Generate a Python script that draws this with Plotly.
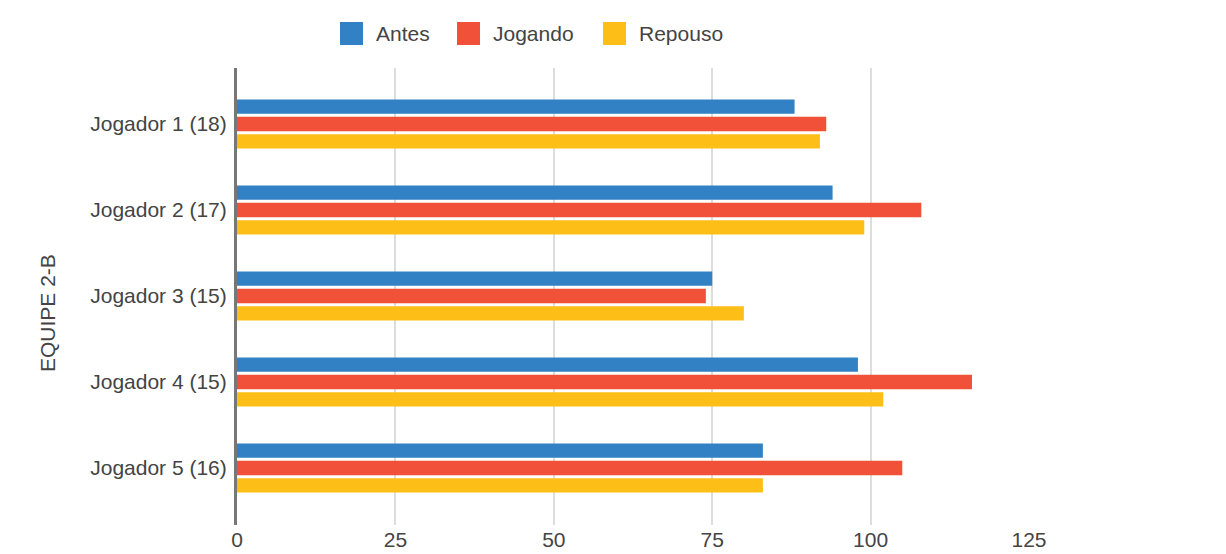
import plotly.graph_objects as go

# Jogadores da equipe e medições por momento
jogadores = ["Jogador 1 (18)", "Jogador 2 (17)", "Jogador 3 (15)", "Jogador 4 (15)", "Jogador 5 (16)"]
series = ["Antes", "Jogando", "Repouso"]
antes = [88, 94, 75, 98, 83]
jogando = [93, 108, 74, 116, 105]
repouso = [92, 99, 80, 102, 83]
cores = ["#3281C4", "#F05138", "#FDBF17"]
x_ticks = [0, 25, 50, 75, 100, 125]
titulo_y = "EQUIPE 2-B"

W, H = 1226, 554
ML, MR, MT, MB = 237, 197, 68, 29
font = "Liberation Sans, Arial, sans-serif"
fsize = 21

fig = go.Figure()
for nome, vals, cor in zip(series, [antes, jogando, repouso], cores):
    fig.add_trace(go.Bar(
        y=list(range(len(jogadores))), x=vals, name=nome, orientation="h",
        marker=dict(color=cor, line=dict(width=0)), showlegend=False,
    ))

# Legenda desenhada no topo (quadrados grandes)
leg_x = [340, 457, 603]
pw = W - ML - MR
ph = H - MT - MB
shapes = []
annotations = []
for nome, cor, px in zip(series, cores, leg_x):
    x0 = (px - ML) / pw
    x1 = (px + 23 - ML) / pw
    y0 = (H - MB - 45) / ph
    y1 = (H - MB - 22) / ph
    shapes.append(dict(type="rect", xref="paper", yref="paper", x0=x0, x1=x1, y0=y0, y1=y1,
                       fillcolor=cor, line=dict(width=0)))
    annotations.append(dict(text=nome, xref="paper", yref="paper",
                            x=(px + 34 - ML) / pw, y=(H - MB - 33.5) / ph,
                            xanchor="left", yanchor="middle", showarrow=False,
                            font=dict(family=font, size=fsize, color="#444")))

annotations.append(dict(text=titulo_y, xref="paper", yref="paper", textangle=-90,
                        x=(47 - ML) / pw, y=(H - MB - 313) / ph,
                        xanchor="center", yanchor="middle", showarrow=False,
                        font=dict(family=font, size=fsize, color="#444")))

fig.update_layout(
    width=W, height=H,
    margin=dict(l=ML, r=MR, t=MT, b=MB, autoexpand=False),
    paper_bgcolor="white", plot_bgcolor="white",
    barmode="group", bargap=0.395, bargroupgap=0.17,
    shapes=shapes, annotations=annotations,
    showlegend=False,
    xaxis=dict(range=[0, 125], tickvals=x_ticks, showgrid=True, gridcolor="#dddddd",
               gridwidth=2, zeroline=False, showline=False, automargin=False,
               tickfont=dict(family=font, size=fsize, color="#444"),
               ticks=""),
    yaxis=dict(range=[4.663, -0.651], tickvals=list(range(len(jogadores))), ticktext=jogadores,
               showgrid=False, zeroline=False, showline=True, linecolor="#777", linewidth=3,
               automargin=False,
               tickfont=dict(family=font, size=fsize, color="#444"),
               ticks="outside", ticklen=3, tickcolor="rgba(0,0,0,0)"),
)

fig.write_html("out.html")
